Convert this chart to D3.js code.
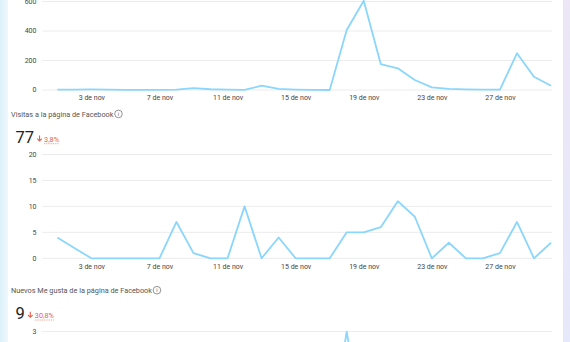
<!DOCTYPE html>
<html><head><meta charset="utf-8">
<script src="https://cdn.jsdelivr.net/npm/d3@7/dist/d3.min.js"></script>
<style>
html,body{margin:0;padding:0;background:#fff;overflow:hidden;}
svg{display:block;font-family:Roboto,"Noto Sans",sans-serif;}
</style></head><body>
<svg id="c" width="570" height="342"></svg>
<script>
const days = [1,2,3,4,5,6,7,8,9,10,11,12,13,14,15,16,17,18,19,20,21,22,23,24,25,26,27,28,29,30];
const tickDays = [3,7,11,15,19,23,27];
const tickLabels = ["3 de nov","7 de nov","11 de nov","15 de nov","19 de nov","23 de nov","27 de nov"];

// Chart 1 (title above the visible area)
const series1 = [2,3,4,3,1,1,1,3,13,5,3,1,29,7,3,1,0,407,605,176,147,68,18,7,4,3,3,249,90,29];
const ticks1 = [0,200,400,600];

// Chart 2
const title2 = "Visitas a la página de Facebook";
const total2 = "77";
const change2 = "3,8%";
const series2 = [4,2,0,0,0,0,0,7,1,0,0,10,0,4,0,0,0,5,5,6,11,8,0,3,0,0,1,7,0,3];
const ticks2 = [0,5,10,15,20];

// Chart 3
const title3 = "Nuevos Me gusta de la página de Facebook";
const total3 = "9";
const change3 = "30,8%";
const series3 = [0,0,0,0,0,0,0,1,0,0,0,0,0,0,0,0,0,3,0,1,2,1,0,0,0,0,0,1,0,0];
const ticks3 = [3];

const svg = d3.select("#c");

// background edges
const defs = svg.append("defs");
const lg = defs.append("linearGradient").attr("id","lb").attr("x1",0).attr("x2",1);
lg.append("stop").attr("offset",0).attr("stop-color","#dcf1fb");
lg.append("stop").attr("offset",1).attr("stop-color","#eef8fd");
const rg = defs.append("linearGradient").attr("id","rb").attr("x1",0).attr("x2",0).attr("y1",0).attr("y2",1);
rg.append("stop").attr("offset",0).attr("stop-color","#ece6f6");
rg.append("stop").attr("offset",1).attr("stop-color","#e6e9fb");
svg.append("rect").attr("x",0).attr("y",0).attr("width",8).attr("height",342).attr("fill","url(#lb)");
svg.append("rect").attr("x",563).attr("y",0).attr("width",7).attr("height",342).attr("fill","url(#rb)");

const x = d3.scaleLinear().domain([1,30]).range([57.3,551]);
const gridX0 = 42, gridX1 = 552;
const lineColor = "#8ad6fc";

function panel(series, ticks, y, showX) {
  const g = svg.append("g");
  g.selectAll("line.grid").data(ticks).join("line")
    .attr("x1",gridX0).attr("x2",gridX1)
    .attr("y1",d=>y(d)).attr("y2",d=>y(d))
    .attr("stroke","#ececec").attr("stroke-width",1);
  g.selectAll("text.yl").data(ticks).join("text")
    .attr("x",36.5).attr("y",d=>y(d)).attr("dy","0.35em")
    .attr("text-anchor","end").attr("font-size",7).attr("fill","#444")
    .text(d=>d);
  if (showX) {
    const ax = d3.axisBottom(x).tickValues(tickDays)
      .tickFormat((d,i)=>tickLabels[i]).tickSize(0).tickPadding(0);
    const ag = g.append("g").attr("transform",`translate(0,${y(0)+5.5})`).call(ax);
    ag.select(".domain").remove();
    ag.selectAll("text").attr("font-size",7).attr("fill","#444")
      .attr("font-family","Roboto,'Noto Sans',sans-serif").attr("dy","0.71em");
  }
  const line = d3.line().x((d,i)=>x(days[i])).y(d=>y(d));
  g.append("path").datum(series).attr("d",line)
    .attr("fill","none").attr("stroke",lineColor).attr("stroke-width",1.8)
    .attr("stroke-linejoin","round");
}

function header(title, total, change, baseY) {
  const g = svg.append("g");
  const t = g.append("text").attr("x",11).attr("y",baseY).attr("font-size",7.3)
    .attr("fill","#555").text(title);
  const w = t.node().getComputedTextLength();
  g.append("circle").attr("cx",11+w+5).attr("cy",baseY-2.6).attr("r",3.8)
    .attr("fill","none").attr("stroke","#666").attr("stroke-width",0.7);
  g.append("text").attr("x",11+w+5).attr("y",baseY-0.6).attr("text-anchor","middle")
    .attr("font-size",5.5).attr("fill","#666").text("i");
  const big = g.append("text").attr("x",15.5).attr("y",baseY+26).attr("font-size",16.5)
    .attr("fill","#222").text(total);
  const bw = big.node().getComputedTextLength();
  const ax = 15.5 + bw + 5.5;
  g.append("path").attr("d",`M${ax},${baseY+19} L${ax},${baseY+24.5} M${ax-2.3},${baseY+22.2} L${ax},${baseY+24.5} L${ax+2.3},${baseY+22.2}`)
    .attr("stroke","#e8604c").attr("stroke-width",1.1).attr("fill","none");
  const ct = g.append("text").attr("x",ax+4.5).attr("y",baseY+25.2).attr("font-size",7.3)
    .attr("fill","#e8604c").text(change);
  const cw = ct.node().getComputedTextLength();
  g.append("line").attr("x1",ax+4.5).attr("x2",ax+4.5+cw).attr("y1",baseY+27.2).attr("y2",baseY+27.2)
    .attr("stroke","#e8604c").attr("stroke-width",0.6).attr("stroke-dasharray","1,0.8");
}

const y1 = d3.scaleLinear().domain([0,600]).range([90,1.5]);
panel(series1, ticks1, y1, true);

header(title2, total2, change2, 116.5);
const y2 = d3.scaleLinear().domain([0,20]).range([258.3,154.5]);
panel(series2, ticks2, y2, true);

header(title3, total3, change3, 292.8);
const y3 = d3.scaleLinear().domain([0,3]).range([435.5,331.6]);
panel(series3, ticks3, y3, false);
</script>
</body></html>
